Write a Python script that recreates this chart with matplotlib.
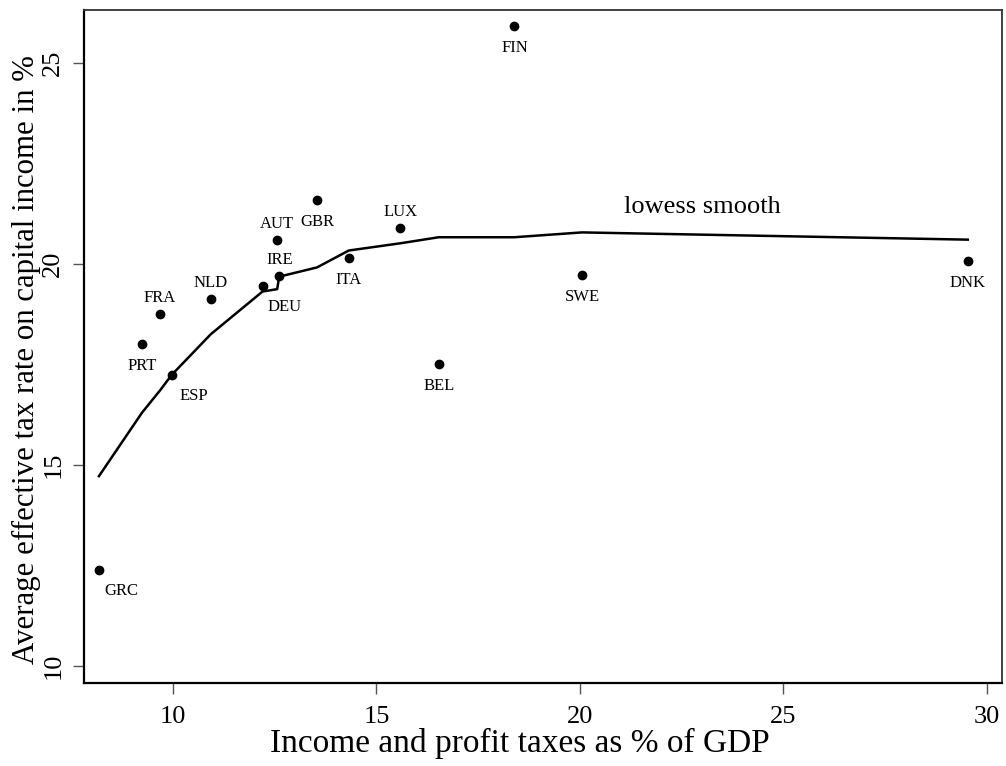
import matplotlib
matplotlib.use("Agg")
import matplotlib.pyplot as plt

# pays de l'OCDE : impot sur le revenu vs taux effectif sur le capital
countries = ["GRC", "PRT", "FRA", "ESP", "NLD", "DEU", "AUT", "IRE",
             "GBR", "ITA", "LUX", "BEL", "FIN", "SWE", "DNK"]
income_tax = [8.18, 9.24, 9.68, 9.97, 10.93, 12.20, 12.56, 12.61,
              13.54, 14.32, 15.59, 16.53, 18.39, 20.05, 29.53]
capital_tax = [12.39, 18.01, 18.75, 17.24, 19.12, 19.45, 20.59, 19.70,
               21.59, 20.15, 20.89, 17.51, 25.91, 19.72, 20.07]
lowess_fit = [14.72, 16.30, 16.85, 17.24, 18.25, 19.31, 19.37, 19.68,
              19.91, 20.33, 20.51, 20.66, 20.66, 20.78, 20.60]

x_ticks = [10, 15, 20, 25, 30]
y_ticks = [10, 15, 20, 25]

# placement des etiquettes (offset en pixels)
offsets = {"above": (0, 16), "below": (0, -22), "below_right": (22, -21)}
label_pos = {"GRC": "below_right", "PRT": "below", "FRA": "above", "ESP": "below_right",
             "NLD": "above", "DEU": "below_right", "AUT": "above", "IRE": "above",
             "GBR": "below", "ITA": "below", "LUX": "above", "BEL": "below",
             "FIN": "below", "SWE": "below", "DNK": "below"}

plt.rcParams["font.family"] = ["Liberation Serif", "DejaVu Serif"]

fig = plt.figure(figsize=(10.06, 7.66), dpi=100)
ax = fig.add_axes([0.0832, 0.1087, 0.9128, 0.8783])

ax.plot(income_tax, lowess_fit, color="black", linewidth=1.8, zorder=2)
ax.plot(income_tax, capital_tax, linestyle="none", marker="o", markersize=6,
        color="black", zorder=3)

for i, name in enumerate(countries):
    dx, dy = offsets[label_pos[name]]
    ax.annotate(name, (income_tax[i], capital_tax[i]), xytext=(dx, dy),
                textcoords="offset pixels", ha="center", va="center", fontsize=12)

ax.text(23.0, 21.40, "lowess smooth", ha="center", va="center", fontsize=19)

ax.set_xlim(7.806, 30.37)
ax.set_ylim(9.585, 26.31)
ax.set_xticks(x_ticks)
ax.set_yticks(y_ticks)
ax.tick_params(axis="both", direction="out", length=8, width=1, color="#555555",
               labelsize=19)
ax.tick_params(axis="x", pad=9)
ax.tick_params(axis="y", pad=6)
for lab in ax.get_yticklabels():
    lab.set_rotation(90)
    lab.set_va("center")

for side in ["left", "bottom"]:
    ax.spines[side].set_linewidth(1.6)
    ax.spines[side].set_color("black")
for side in ["top", "right"]:
    ax.spines[side].set_linewidth(1.3)
    ax.spines[side].set_color("#333333")

ax.set_xlabel("Income and profit taxes as % of GDP", fontsize=24, labelpad=0)
ax.set_ylabel("Average effective tax rate on capital income in %", fontsize=22.2, labelpad=1)
# titres un peu decales comme dans l'original
ax.xaxis.label.set_x(0.475)
ax.yaxis.label.set_y(0.48)

fig.savefig("out.png", dpi=100)
